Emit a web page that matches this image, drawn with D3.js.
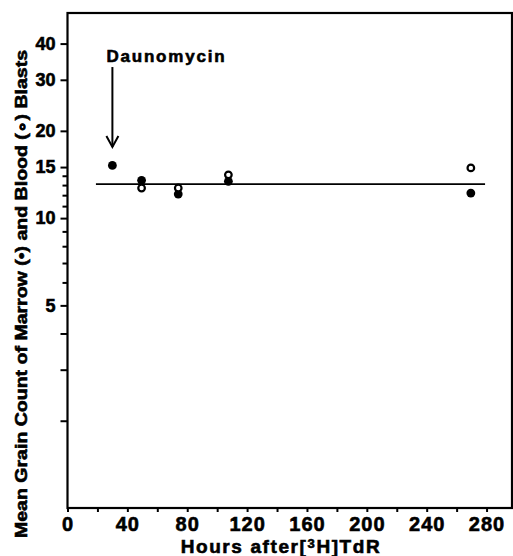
<!DOCTYPE html>
<html>
<head>
<meta charset="utf-8">
<script src="https://cdn.jsdelivr.net/npm/d3@7"></script>
<style>
  body { margin: 0; background: #fff; }
  text { font-family: "Liberation Sans", Arial, sans-serif; font-weight: bold; fill: #000; stroke: #000; stroke-width: 0.6px; }
</style>
</head>
<body>
<svg width="513" height="556"></svg>
<script>
// values
const hours = [30, 49.5, 74, 107.5, 269.5]
const marrow = [15.2, 13.5, 12.1, 13.4, 12.2]   // filled dots
const blood = [null, 12.7, 12.7, 14.1, 14.9]    // open dots
const fitLevel = 13.1
const fitFrom = 19
const fitTo = 279
const drugHour = 30

const xTicks = [0, 40, 80, 120, 160, 200, 240, 280]
const xMinor = [20, 60, 100, 140, 180, 220, 260]
const yLabelled = [5, 10, 15, 20, 30, 40]
const yUnlabelled = [2, 3, 4]
const yMinor = [6, 7, 8, 9, 11, 12, 13, 14]

const svg = d3.select("svg")

const x = d3.scaleLinear().domain([0, 297]).range([67.5, 512])
const y = d3.scaleLog().domain([1, 51]).range([508, 13])

// frame
svg.append("rect")
    .attr("x", x(0))
    .attr("y", y(51))
    .attr("width", x(297) - x(0))
    .attr("height", y(1) - y(51))
    .style("fill", "none")
    .style("stroke", "black")
    .style("stroke-width", 2.2)

// y axis
const yAxis = d3.axisLeft(y)
    .tickValues(yLabelled.concat(yUnlabelled))
    .tickFormat(d => yLabelled.includes(d) ? d : "")
    .tickSize(7)
    .tickPadding(5)
svg.append("g")
    .attr("transform", `translate(${x(0)},0)`)
    .call(yAxis)
    .call(g => g.select(".domain").remove())
    .call(g => g.selectAll("line").style("stroke-width", 2))
    .call(g => g.selectAll("text").style("font-size", "18px").style("font-family", "Liberation Sans").style("font-weight", "bold"))

svg.append("g")
    .attr("transform", `translate(${x(0)},0)`)
    .call(d3.axisLeft(y).tickValues(yMinor).tickFormat("").tickSize(5))
    .call(g => g.select(".domain").remove())
    .call(g => g.selectAll("line").style("stroke-width", 2))

// x axis
svg.append("g")
    .attr("transform", `translate(0,${y(1)})`)
    .call(d3.axisBottom(x).tickValues(xTicks.concat(xMinor)).tickFormat(d => xTicks.includes(d) ? d : "").tickSize(4).tickPadding(5))
    .call(g => g.select(".domain").remove())
    .call(g => g.selectAll("line").style("stroke-width", 2))
    .call(g => g.selectAll("text").style("font-size", "20px").style("font-family", "Liberation Sans").style("font-weight", "bold").style("letter-spacing", "1px"))

// axis titles
const xTitle = svg.append("text")
    .attr("x", 281)
    .attr("y", 553)
    .style("text-anchor", "middle")
    .style("font-size", "19px")
    .style("letter-spacing", "1.6px")
xTitle.append("tspan").text("Hours after[")
xTitle.append("tspan").attr("dy", -5).style("font-size", "13px").text("3")
xTitle.append("tspan").attr("dy", 5).text("H]TdR")

svg.append("text")
    .attr("transform", "translate(27,294) rotate(-90)")
    .style("text-anchor", "middle")
    .style("font-size", "17px")
    .attr("textLength", 488)
    .attr("lengthAdjust", "spacingAndGlyphs")
    .text("Mean Grain Count of Marrow (\u2022) and Blood (\u2218) Blasts")

// fitted line
svg.append("line")
    .attr("x1", x(fitFrom))
    .attr("x2", x(fitTo))
    .attr("y1", y(fitLevel))
    .attr("y2", y(fitLevel))
    .style("stroke", "black")
    .style("stroke-width", 1.6)

// marrow dots
svg.append("g")
    .selectAll("circle")
    .data(hours.map((h, i) => ({ h: h, v: marrow[i] })))
    .enter()
    .append("circle")
    .attr("cx", d => x(d.h))
    .attr("cy", d => y(d.v))
    .attr("r", 4.4)
    .style("fill", "black")

// blood dots
svg.append("g")
    .selectAll("circle")
    .data(hours.map((h, i) => ({ h: h, v: blood[i] })).filter(d => d.v != null))
    .enter()
    .append("circle")
    .attr("cx", d => x(d.h))
    .attr("cy", d => y(d.v))
    .attr("r", 3.3)
    .style("fill", "white")
    .style("stroke", "black")
    .style("stroke-width", 2.2)

// drug arrow
const ax = x(drugHour)
svg.append("line")
    .attr("x1", ax).attr("x2", ax)
    .attr("y1", y(33.2)).attr("y2", y(17.6))
    .style("stroke", "black")
    .style("stroke-width", 2)
svg.append("path")
    .attr("d", `M${ax - 6},${y(17.6) - 11} L${ax},${y(17.6)} L${ax + 6},${y(17.6) - 11}`)
    .style("fill", "none")
    .style("stroke", "black")
    .style("stroke-width", 2)

svg.append("text")
    .attr("x", ax - 6)
    .attr("y", 62)
    .style("font-size", "17px")
    .style("letter-spacing", "1.8px")
    .text("Daunomycin")
</script>
</body>
</html>
